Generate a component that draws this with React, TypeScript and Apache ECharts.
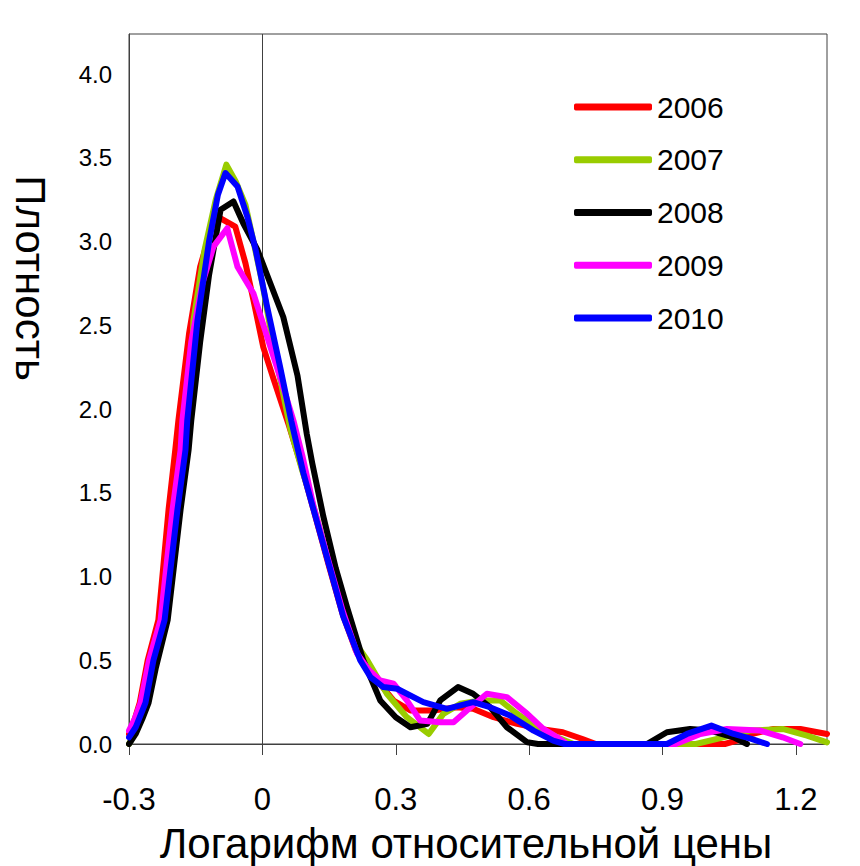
import React, { useEffect, useRef } from "react";
import * as echarts from "echarts";

const years = ["2006", "2007", "2008", "2009", "2010"];
const colors = ["#ff0000", "#99cc00", "#000000", "#ff00ff", "#0000ff"];

const xTicks = [-0.3, 0, 0.3, 0.6, 0.9, 1.2];
const yTicks = [0, 0.5, 1, 1.5, 2, 2.5, 3, 3.5, 4];

const d2006: number[][] = [
  [-0.3, 0.06], [-0.287, 0.15], [-0.276, 0.245], [-0.258, 0.5], [-0.234, 0.74], [-0.211, 1.4],
  [-0.196, 1.755], [-0.189, 1.93], [-0.165, 2.45], [-0.14, 2.85], [-0.115, 3.08], [-0.101, 3.15],
  [-0.088, 3.13], [-0.061, 3.09], [-0.038, 2.87], [-0.02, 2.65], [0.002, 2.37], [0.025, 2.18],
  [0.06, 1.9], [0.09, 1.64], [0.115, 1.4], [0.15, 1.06], [0.18, 0.78], [0.21, 0.56], [0.235, 0.45],
  [0.258, 0.38], [0.295, 0.26], [0.333, 0.2], [0.385, 0.2], [0.438, 0.22], [0.474, 0.21],
  [0.52, 0.16], [0.573, 0.12], [0.625, 0.09], [0.676, 0.07], [0.72, 0.03], [0.75, 0],
  [1.04, 0], [1.067, 0.02], [1.1, 0.06], [1.15, 0.09], [1.21, 0.09], [1.27, 0.06],
];

const d2007: number[][] = [
  [-0.3, 0.0], [-0.29, 0.05], [-0.275, 0.16], [-0.262, 0.3], [-0.245, 0.5], [-0.22, 0.76],
  [-0.19, 1.42], [-0.172, 1.78], [-0.165, 1.96], [-0.155, 2.53], [-0.13, 2.95], [-0.105, 3.25],
  [-0.081, 3.46], [-0.06, 3.36], [-0.038, 3.22], [-0.02, 3.0], [0, 2.75], [0.02, 2.45], [0.04, 2.18],
  [0.063, 1.88], [0.09, 1.63], [0.115, 1.42], [0.15, 1.08], [0.18, 0.8], [0.21, 0.6],
  [0.236, 0.5], [0.28, 0.3], [0.325, 0.16], [0.374, 0.06], [0.407, 0.18], [0.445, 0.24],
  [0.49, 0.26], [0.535, 0.26], [0.573, 0.18], [0.618, 0.1], [0.663, 0.04], [0.7, 0],
  [0.975, 0], [1.03, 0.035], [1.097, 0.08], [1.17, 0.09], [1.225, 0.05], [1.27, 0.01],
];

const d2008: number[][] = [
  [-0.3, 0.0], [-0.285, 0.06], [-0.27, 0.15], [-0.256, 0.245], [-0.24, 0.45], [-0.213, 0.74],
  [-0.184, 1.4], [-0.166, 1.755], [-0.16, 1.93], [-0.14, 2.4], [-0.12, 2.8], [-0.094, 3.19],
  [-0.065, 3.24], [-0.043, 3.11], [-0.011, 2.95], [0.018, 2.75], [0.047, 2.55], [0.079, 2.2],
  [0.1, 1.85], [0.112, 1.68], [0.137, 1.36], [0.165, 1.05], [0.19, 0.82], [0.227, 0.5],
  [0.265, 0.26], [0.3, 0.16], [0.333, 0.1], [0.371, 0.12], [0.4, 0.26], [0.44, 0.34],
  [0.474, 0.3], [0.512, 0.22], [0.55, 0.1], [0.596, 0.01], [0.62, 0],
  [0.865, 0], [0.91, 0.07], [0.962, 0.09], [1.007, 0.08], [1.06, 0.04], [1.09, 0],
];

const d2009: number[][] = [
  [-0.3, 0.08], [-0.287, 0.15], [-0.274, 0.245], [-0.255, 0.5], [-0.229, 0.74], [-0.202, 1.4],
  [-0.184, 1.755], [-0.18, 1.93], [-0.16, 2.4], [-0.135, 2.75], [-0.11, 2.97], [-0.079, 3.08],
  [-0.056, 2.85], [-0.02, 2.69], [0.011, 2.43], [0.04, 2.19], [0.07, 1.93], [0.09, 1.72],
  [0.115, 1.42], [0.15, 1.08], [0.18, 0.8], [0.213, 0.54], [0.24, 0.44], [0.265, 0.38],
  [0.295, 0.36], [0.325, 0.26], [0.355, 0.14], [0.4, 0.13], [0.43, 0.13], [0.46, 0.2],
  [0.505, 0.3], [0.55, 0.28], [0.596, 0.18], [0.632, 0.09], [0.663, 0.04], [0.685, 0],
  [0.93, 0], [0.985, 0.06], [1.045, 0.09], [1.12, 0.08], [1.17, 0.04], [1.21, 0],
];

const d2010: number[][] = [
  [-0.3, 0.04], [-0.285, 0.1], [-0.263, 0.245], [-0.245, 0.5], [-0.22, 0.74], [-0.191, 1.4],
  [-0.173, 1.755], [-0.169, 1.93], [-0.146, 2.53], [-0.12, 3.0], [-0.1, 3.28], [-0.083, 3.41],
  [-0.056, 3.33], [-0.034, 3.15], [-0.015, 2.95], [0.01, 2.62], [0.04, 2.25], [0.065, 1.93],
  [0.092, 1.62], [0.115, 1.4], [0.153, 1.04], [0.182, 0.76], [0.22, 0.5], [0.243, 0.4],
  [0.272, 0.34], [0.303, 0.33], [0.362, 0.25], [0.415, 0.21], [0.474, 0.25], [0.512, 0.22],
  [0.557, 0.17], [0.61, 0.08], [0.654, 0.02], [0.68, 0],
  [0.91, 0], [0.955, 0.06], [1.01, 0.11], [1.06, 0.06], [1.1, 0.03], [1.135, 0],
];

const seriesData = [d2006, d2007, d2008, d2009, d2010];

const xTitle = "Логарифм относительной цены";
const yTitle = "Плотность";

const FONT = "Liberation Sans, Arial, sans-serif";

export default function App() {
  const ref = useRef<HTMLDivElement>(null);
  useEffect(() => {
    if (!ref.current) return;
    const chart = echarts.init(ref.current, null, { renderer: "svg" });
    const series: any[] = years.map((y, i) => ({
      name: y,
      type: "line",
      data: seriesData[i],
      symbol: "none",
      smooth: false,
      lineStyle: { color: colors[i], width: 6, cap: "round", join: "round" },
      itemStyle: { color: colors[i] },
      z: 3 + i,
    }));
    series[0].markLine = {
      silent: true,
      symbol: "none",
      label: { show: false },
      lineStyle: { color: "#404040", width: 1, type: "solid" },
      data: [{ xAxis: 0 }],
      z: 1,
    };
    chart.setOption({
      animation: false,
      backgroundColor: "#ffffff",
      grid: {
        left: 129,
        right: 33,
        top: 34,
        bottom: 122,
        show: true,
        borderColor: "#404040",
        borderWidth: 1,
        backgroundColor: "transparent",
      },
      legend: {
        orient: "vertical",
        left: 569,
        top: 87,
        itemWidth: 78,
        itemHeight: 7,
        itemGap: 22.75,
        icon: "roundRect",
        data: years,
        textStyle: { fontSize: 30, lineHeight: 30, color: "#000", fontFamily: FONT },
      },
      xAxis: {
        type: "value",
        min: -0.3,
        max: 1.27,
        interval: 0.3,
        splitLine: { show: false },
        axisLine: { show: true, onZero: false, lineStyle: { color: "#404040", width: 1 } },
        axisTick: {
          show: true,
          inside: false,
          length: 11,
          customValues: xTicks,
          lineStyle: { color: "#404040", width: 1 },
        },
        axisLabel: {
          customValues: xTicks,
          margin: 40,
          fontSize: 31,
          color: "#000",
          fontFamily: FONT,
          formatter: (v: number) => (Math.abs(v) < 1e-9 ? "0" : v.toFixed(1)),
        },
      },
      yAxis: {
        type: "value",
        min: 0,
        max: 4.24,
        interval: 0.5,
        splitLine: { show: false },
        axisLine: { show: true, onZero: false, lineStyle: { color: "#404040", width: 1 } },
        axisTick: { show: false },
        axisLabel: {
          customValues: yTicks,
          margin: 17,
          fontSize: 24,
          color: "#000",
          fontFamily: FONT,
          formatter: (v: number) => v.toFixed(1),
        },
      },
      graphic: [
        {
          type: "text",
          x: 466,
          y: 843,
          style: {
            text: xTitle,
            fontSize: 42,
            fontFamily: FONT,
            fill: "#000",
            align: "center",
            verticalAlign: "middle",
          },
        },
        {
          type: "text",
          x: 30,
          y: 278,
          rotation: -Math.PI / 2,
          style: {
            text: yTitle,
            fontSize: 42,
            fontFamily: FONT,
            fill: "#000",
            align: "center",
            verticalAlign: "middle",
          },
        },
      ],
      series,
    });
    return () => chart.dispose();
  }, []);
  return (
    <div
      ref={ref}
      style={{ position: "fixed", left: 0, top: 0, width: 860, height: 866, background: "#fff" }}
    />
  );
}
